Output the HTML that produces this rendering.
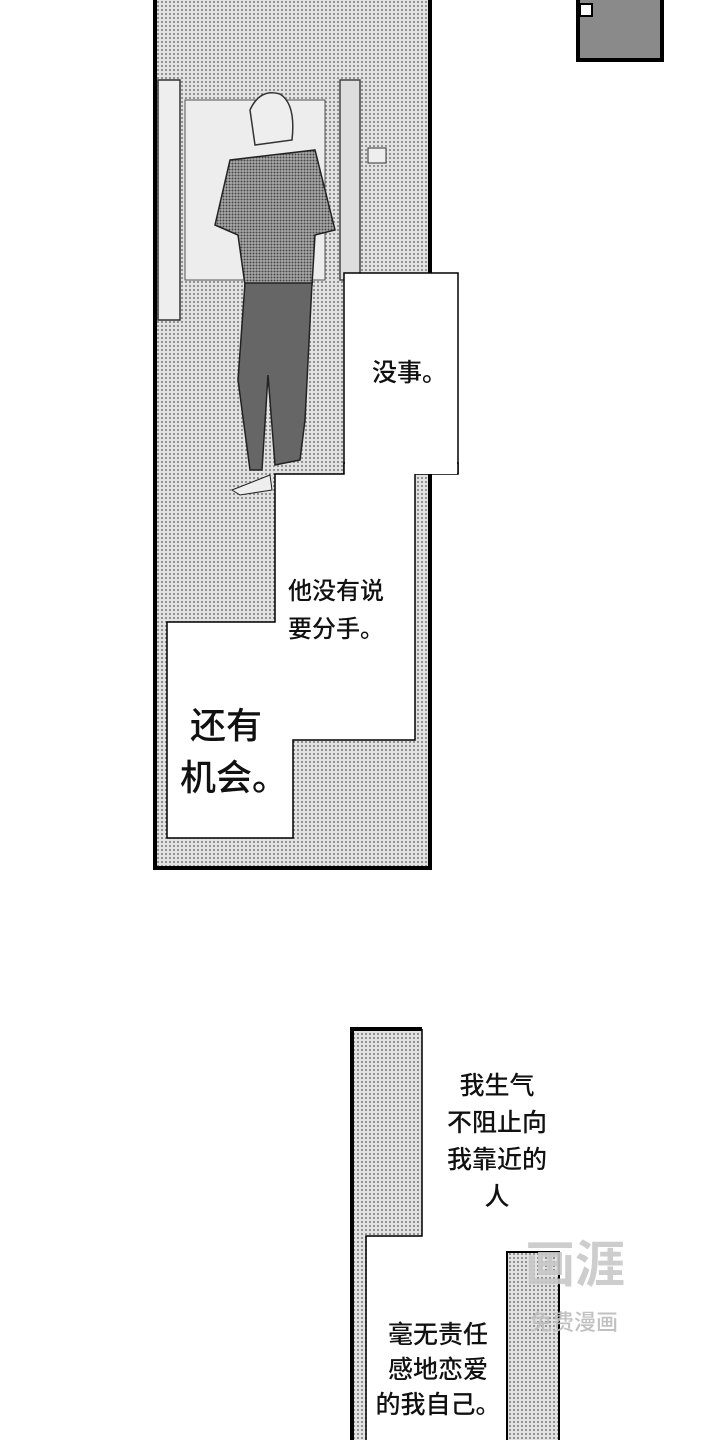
<!DOCTYPE html>
<html><head><meta charset="utf-8"><style>
body{margin:0;width:720px;height:1440px;background:#fff;position:relative;overflow:hidden;font-family:"Liberation Sans","Noto Sans CJK SC",sans-serif}
.t{position:absolute;color:#111;line-height:1;font-weight:500}
</style></head><body>
<svg width="720" height="1440" style="position:absolute;left:0;top:0">
<defs>
<pattern id="dot" width="4" height="4" patternUnits="userSpaceOnUse"><rect width="4" height="4" fill="#e2e2e2"/><circle cx="2" cy="2" r="1" fill="#777"/></pattern>
<pattern id="dot2" width="3" height="3" patternUnits="userSpaceOnUse"><rect width="3" height="3" fill="#aaa"/><circle cx="1.5" cy="1.5" r="1" fill="#444"/></pattern>
</defs>
<rect x="578" y="-4" width="84" height="64" fill="#8a8a8a" stroke="#000" stroke-width="4"/>
<rect x="580" y="4" width="12" height="12" fill="#fff" stroke="#000" stroke-width="2"/>
<rect x="155" y="-4" width="275" height="872" fill="url(#dot)" stroke="#000" stroke-width="4"/>
<rect x="158" y="80" width="22" height="240" fill="#eee" stroke="#333" stroke-width="1.5"/>
<rect x="185" y="100" width="140" height="180" fill="#ededed" stroke="#555" stroke-width="1"/>
<rect x="340" y="80" width="20" height="200" fill="#ddd" stroke="#444" stroke-width="1.5"/>
<rect x="368" y="148" width="18" height="15" fill="#eee" stroke="#333"/>
<path d="M250 110 Q260 88 280 94 Q296 104 292 140 L255 145 Z" fill="#eee" stroke="#333" stroke-width="1.5"/>
<path d="M230 160 L315 150 L335 230 L315 235 L312 285 L245 285 L238 235 L215 225 Z" fill="url(#dot2)" stroke="#222" stroke-width="1.5"/>
<path d="M245 283 L312 283 L305 420 L300 460 L275 465 L268 375 L262 470 L250 470 L238 380 Z" fill="#666" stroke="#222" stroke-width="1.5"/>
<path d="M232 490 L270 475 L272 490 L240 495 Z" fill="#eee" stroke="#222"/>
<rect x="344" y="273" width="114" height="200" fill="#fff" stroke="#000" stroke-width="1.5"/>
<path d="M275 474 L344 474 L344 463 L458 463 L458 474 L415 474 L415 740 L293 740 L293 838 L167 838 L167 622 L275 622 Z" fill="#fff" stroke="#000" stroke-width="1.5"/>
<rect x="345" y="462" width="112" height="12" fill="#fff"/>
<rect x="354" y="1031" width="68" height="410" fill="url(#dot)"/>
<rect x="367" y="1237" width="140" height="210" fill="#fff"/>
<path d="M352 1444 L352 1029 L422 1029" fill="none" stroke="#000" stroke-width="4"/>
<path d="M422 1029 L422 1236 L366 1236 L366 1444" fill="none" stroke="#000" stroke-width="1.5"/>
<rect x="507" y="1252" width="52" height="200" fill="url(#dot)" stroke="#000" stroke-width="2"/>
</svg>
<div class="t" style="left:372px;top:361px;font-size:25px">没事。</div>
<div class="t" style="left:288px;top:573px;font-size:24px;line-height:38px">他没有说<br>要分手。</div>
<div class="t" style="left:180px;top:700px;font-size:36px;line-height:52px">&nbsp;还有<br>机会。</div>
<div class="t" style="left:432px;top:1068px;width:130px;text-align:center;font-size:25px;line-height:37px">我生气<br>不阻止向<br>我靠近的<br>人</div>
<div class="t" style="left:370px;top:1318px;width:136px;text-align:center;font-size:25px;line-height:35px">毫无责任<br>感地恋爱<br>的我自己。</div>
<div class="t" style="left:525px;top:1240px;font-size:50px;color:rgba(200,200,200,0.9);font-weight:bold">画涯</div>
<div class="t" style="left:530px;top:1312px;font-size:22px;color:rgba(190,190,190,0.95)">免费漫画</div>
</body></html>
